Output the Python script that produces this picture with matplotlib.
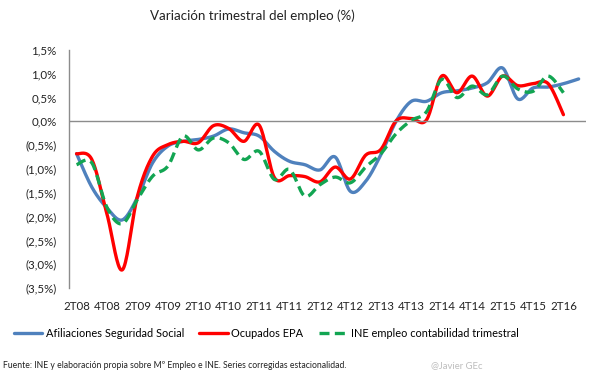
import numpy as np
import matplotlib.pyplot as plt
from matplotlib.ticker import FuncFormatter

plt.rcParams['font.family'] = ['Lato', 'DejaVu Sans']

quarters = ['2T08', '3T08', '4T08', '1T09', '2T09', '3T09', '4T09', '1T10',
            '2T10', '3T10', '4T10', '1T11', '2T11', '3T11', '4T11', '1T12',
            '2T12', '3T12', '4T12', '1T13', '2T13', '3T13', '4T13', '1T14',
            '2T14', '3T14', '4T14', '1T15', '2T15', '3T15', '4T15', '1T16',
            '2T16', '3T16']

afiliaciones = [-0.68, -1.38, -1.82, -2.07, -1.60, -0.87, -0.52, -0.42,
                -0.38, -0.31, -0.16, -0.24, -0.31, -0.63, -0.84, -0.91,
                -1.02, -0.75, -1.47, -1.26, -0.70, 0.00, 0.42, 0.42,
                0.60, 0.64, 0.70, 0.81, 1.12, 0.47, 0.70, 0.72,
                0.79, 0.89]

ocupados_epa = [-0.68, -0.80, -1.95, -3.12, -1.57, -0.73, -0.49, -0.42,
                -0.45, -0.09, -0.15, -0.42, -0.08, -1.18, -1.14, -1.16,
                -1.27, -0.96, -1.21, -0.71, -0.59, 0.01, 0.06, 0.03,
                0.95, 0.60, 0.95, 0.53, 0.95, 0.75, 0.79, 0.79,
                0.14]

ine_contabilidad = [-0.91, -0.87, -1.81, -2.15, -1.64, -1.15, -0.94, -0.31,
                    -0.60, -0.35, -0.45, -0.80, -0.63, -1.22, -1.01, -1.57,
                    -1.33, -1.17, -1.29, -0.96, -0.68, -0.26, 0.02, 0.20,
                    0.88, 0.50, 0.74, 0.56, 0.95, 0.68, 0.63, 0.95,
                    0.60]


def smooth(y, n=20):
    # Excel-style smoothed line (cubic bezier through the points)
    y = np.asarray(y, dtype=float)
    x = np.arange(len(y), dtype=float)
    pts = np.column_stack([x, y])
    out = [pts[0]]
    t = np.linspace(0, 1, n)[1:, None]
    for i in range(len(pts) - 1):
        p0 = pts[i - 1] if i > 0 else pts[i]
        p1 = pts[i]
        p2 = pts[i + 1]
        p3 = pts[i + 2] if i + 2 < len(pts) else pts[i + 1]
        c1 = p1 + (p2 - p0) / 6
        c2 = p2 - (p3 - p1) / 6
        seg = ((1 - t) ** 3) * p1 + 3 * ((1 - t) ** 2) * t * c1 \
            + 3 * (1 - t) * t ** 2 * c2 + t ** 3 * p2
        out.extend(seg)
    out = np.array(out)
    return out[:, 0], out[:, 1]


def pct(v, pos):
    s = f"{abs(v):.1f}%".replace('.', ',')
    return f"({s})" if v < -1e-9 else s


fig = plt.figure(figsize=(6.05, 3.78), dpi=100)
ax = fig.add_axes([0.114, 0.238, 0.855, 0.63])

xb, yb = smooth(afiliaciones)
ax.plot(xb, yb, color='#4F81BD', lw=2.4, solid_capstyle='round',
        label='Afiliaciones Seguridad Social')
xr, yr = smooth(ocupados_epa)
ax.plot(xr, yr, color='#FF0000', lw=2.4, solid_capstyle='round',
        label='Ocupados EPA')
xg, yg = smooth(ine_contabilidad)
ax.plot(xg, yg, color='#12A552', lw=2.4, dashes=(3, 1.6),
        label='INE empleo contabilidad trimestral')

ax.set_xlim(-0.5, len(quarters) - 0.5)
ax.set_ylim(-3.5, 1.5)
ax.set_yticks(np.arange(-3.5, 1.51, 0.5))
ax.yaxis.set_major_formatter(FuncFormatter(pct))
ax.set_xticks(range(0, len(quarters), 2))
ax.set_xticklabels(quarters[::2])
ax.tick_params(axis='both', length=0, labelsize=8.3, colors='#222222')
ax.tick_params(axis='y', pad=9)
ax.tick_params(axis='x', pad=9)

for s in ['top', 'right', 'bottom']:
    ax.spines[s].set_visible(False)
ax.spines['left'].set_color('#8c8c8c')
ax.spines['left'].set_linewidth(1)
ax.axhline(0, color='#8c8c8c', lw=1)

fig.text(0.417, 0.958, 'Variación trimestral del empleo (%)', ha='center',
         va='center', fontsize=9.6, color='#222222')

fig.legend(loc='center', bbox_to_anchor=(0.44, 0.118), ncol=3, frameon=False,
           fontsize=7.9, handlelength=2.6, handletextpad=0.3,
           columnspacing=1.4)

fig.text(0.005, 0.034, 'Fuente: INE y elaboración propia sobre Mº Empleo e INE. '
         'Series corregidas estacionalidad.', ha='left', va='center',
         fontsize=6.2, color='#222222')
fig.text(0.755, 0.034, '@Javier GEc', ha='center', va='center', fontsize=6.8,
         color='#bdbdbd')

fig.savefig('out.png', dpi=100)
